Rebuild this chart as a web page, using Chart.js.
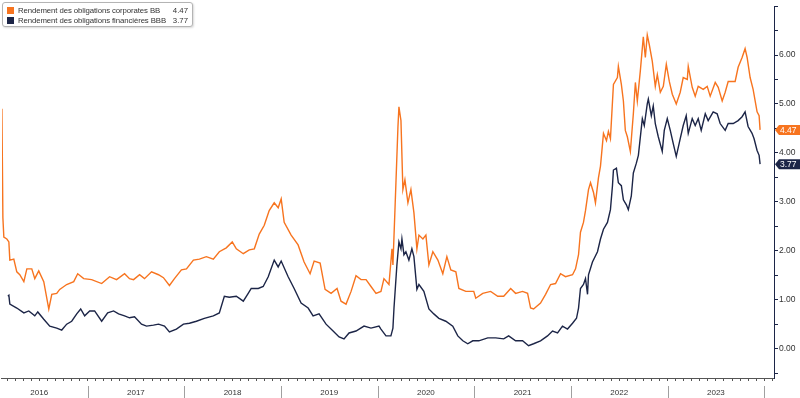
<!DOCTYPE html>
<html>
<head>
<meta charset="utf-8">
<script src="https://cdn.jsdelivr.net/npm/chart.js@4.4.1/dist/chart.umd.min.js"></script>
<style>
  html, body { margin: 0; padding: 0; background: #fff; }
  #wrap { position: relative; width: 800px; height: 398px; }
  #legend {
    position: absolute; left: 2px; top: 2px; width: 189px; height: 23px;
    border: 1px solid #b4b4b4; border-radius: 3px; background: #fff;
    box-shadow: 1px 1px 2px rgba(0,0,0,0.15);
    font: 7.8px "Liberation Sans", Arial, sans-serif; color: #333;
  }
  .row { position: absolute; left: 4px; right: 4px; height: 10px; line-height: 10px; white-space: nowrap; }
  .sw { position: absolute; left: 0; top: 1px; width: 7px; height: 7px; }
  .lbl { position: absolute; left: 11px; letter-spacing: -0.1px; }
  .val { position: absolute; right: 0; }
</style>
</head>
<body>
<div id="wrap">
  <canvas id="chart" width="800" height="398"></canvas>
  <div id="legend">
    <div class="row" style="top:3px"><span class="sw" style="background:#f7741f"></span><span class="lbl">Rendement des obligations corporates BB</span><span class="val">4.47</span></div>
    <div class="row" style="top:13px"><span class="sw" style="background:#1c2547"></span><span class="lbl">Rendement des obligations financières BBB</span><span class="val">3.77</span></div>
  </div>
</div>
<script>
// time in decimal years
const corpDates = [
  2016.114, 2016.124, 2016.134, 2016.165, 2016.186, 2016.196, 2016.237, 2016.268, 2016.299, 2016.341,
  2016.372, 2016.423, 2016.454, 2016.495, 2016.547, 2016.599, 2016.630, 2016.681, 2016.712, 2016.784,
  2016.857, 2016.898, 2016.960, 2017.042, 2017.146, 2017.228, 2017.300, 2017.383, 2017.434, 2017.476,
  2017.538, 2017.589, 2017.662, 2017.734, 2017.785, 2017.847, 2017.899, 2017.971, 2018.023, 2018.095,
  2018.157, 2018.229, 2018.301, 2018.363, 2018.435, 2018.497, 2018.539, 2018.611, 2018.673, 2018.725,
  2018.776, 2018.828, 2018.879, 2018.931, 2018.972, 2019.003, 2019.034, 2019.106, 2019.178, 2019.240,
  2019.302, 2019.344, 2019.406, 2019.457, 2019.519, 2019.581, 2019.622, 2019.674, 2019.726, 2019.777,
  2019.829, 2019.881, 2019.932, 2019.984, 2020.035, 2020.066, 2020.118, 2020.149, 2020.159, 2020.180,
  2020.211, 2020.221, 2020.242, 2020.262, 2020.283, 2020.314, 2020.345, 2020.376, 2020.407, 2020.428,
  2020.469, 2020.500, 2020.531, 2020.572, 2020.624, 2020.675, 2020.717, 2020.758, 2020.810, 2020.841,
  2020.913, 2020.995, 2021.016, 2021.088, 2021.170, 2021.243, 2021.305, 2021.377, 2021.428, 2021.500,
  2021.552, 2021.583, 2021.614, 2021.686, 2021.738, 2021.790, 2021.841, 2021.893, 2021.944, 2022.017,
  2022.048, 2022.079, 2022.099, 2022.130, 2022.151, 2022.182, 2022.203, 2022.234, 2022.254, 2022.285,
  2022.306, 2022.337, 2022.368, 2022.388, 2022.409, 2022.440, 2022.481, 2022.491, 2022.522, 2022.543,
  2022.563, 2022.584, 2022.615, 2022.646, 2022.667, 2022.687, 2022.718, 2022.749, 2022.770, 2022.790,
  2022.811, 2022.842, 2022.873, 2022.894, 2022.925, 2022.956, 2022.987, 2023.018, 2023.049, 2023.090,
  2023.131, 2023.162, 2023.204, 2023.214, 2023.255, 2023.286, 2023.317, 2023.369, 2023.410, 2023.441,
  2023.493, 2023.524, 2023.565, 2023.596, 2023.627, 2023.699, 2023.730, 2023.771, 2023.802, 2023.823,
  2023.854, 2023.885, 2023.926, 2023.947, 2023.957
];
const corpYield = [
  4.90, 2.68, 2.28, 2.24, 2.18, 1.81, 1.83, 1.57, 1.51, 1.37,
  1.63, 1.63, 1.43, 1.59, 1.37, 0.81, 1.11, 1.13, 1.21, 1.31,
  1.37, 1.53, 1.43, 1.41, 1.33, 1.47, 1.41, 1.53, 1.43, 1.41,
  1.51, 1.43, 1.57, 1.51, 1.45, 1.29, 1.43, 1.61, 1.63, 1.81,
  1.83, 1.88, 1.83, 1.98, 2.06, 2.18, 2.04, 1.94, 2.02, 2.04,
  2.34, 2.52, 2.82, 2.98, 2.88, 3.06, 2.58, 2.32, 2.12, 1.77,
  1.53, 1.79, 1.75, 1.21, 1.13, 1.23, 0.97, 0.91, 1.17, 1.49,
  1.41, 1.41, 1.27, 1.13, 1.17, 1.43, 1.31, 2.04, 1.71, 2.84,
  4.54, 4.94, 4.66, 3.25, 3.45, 2.98, 3.25, 2.78, 2.04, 2.32,
  2.24, 2.32, 1.71, 1.98, 1.81, 1.53, 1.88, 1.61, 1.57, 1.23,
  1.17, 1.17, 1.03, 1.13, 1.17, 1.07, 1.07, 1.23, 1.13, 1.17,
  1.13, 0.83, 0.81, 0.93, 1.11, 1.31, 1.33, 1.53, 1.47, 1.51,
  1.63, 1.92, 2.38, 2.58, 2.82, 3.25, 3.39, 3.19, 2.98, 3.49,
  3.73, 4.40, 4.25, 4.44, 4.29, 5.40, 5.54, 5.77, 5.40, 5.06,
  4.46, 4.33, 4.03, 4.80, 5.44, 5.06, 5.67, 6.37, 5.95, 6.41,
  6.21, 5.87, 5.36, 5.60, 5.24, 5.36, 5.81, 5.46, 5.20, 5.00,
  5.24, 5.54, 5.50, 5.77, 5.34, 5.16, 5.36, 5.30, 5.36, 5.16,
  5.44, 5.34, 5.06, 5.24, 5.46, 5.46, 5.75, 5.95, 6.13, 5.95,
  5.54, 5.30, 4.84, 4.76, 4.47
];

const finDates = [
  2016.176, 2016.186, 2016.196, 2016.268, 2016.341, 2016.392, 2016.454, 2016.485, 2016.547, 2016.609,
  2016.681, 2016.733, 2016.784, 2016.836, 2016.888, 2016.929, 2016.970, 2017.022, 2017.073, 2017.146,
  2017.208, 2017.269, 2017.321, 2017.383, 2017.434, 2017.486, 2017.558, 2017.610, 2017.682, 2017.734,
  2017.796, 2017.847, 2017.919, 2017.992, 2018.054, 2018.126, 2018.208, 2018.301, 2018.363, 2018.415,
  2018.466, 2018.539, 2018.611, 2018.662, 2018.693, 2018.766, 2018.817, 2018.869, 2018.931, 2018.972,
  2019.003, 2019.075, 2019.137, 2019.209, 2019.282, 2019.333, 2019.395, 2019.467, 2019.540, 2019.602,
  2019.653, 2019.705, 2019.777, 2019.860, 2019.932, 2020.015, 2020.035, 2020.087, 2020.138, 2020.159,
  2020.170, 2020.200, 2020.221, 2020.242, 2020.252, 2020.273, 2020.293, 2020.324, 2020.355, 2020.376,
  2020.407, 2020.428, 2020.479, 2020.531, 2020.582, 2020.634, 2020.706, 2020.778, 2020.830, 2020.882,
  2020.933, 2020.985, 2021.047, 2021.140, 2021.222, 2021.305, 2021.356, 2021.428, 2021.500, 2021.562,
  2021.614, 2021.686, 2021.758, 2021.810, 2021.862, 2021.913, 2021.965, 2022.017, 2022.058, 2022.079,
  2022.099, 2022.130, 2022.151, 2022.172, 2022.182, 2022.223, 2022.275, 2022.306, 2022.337, 2022.378,
  2022.409, 2022.430, 2022.440, 2022.471, 2022.491, 2022.522, 2022.543, 2022.574, 2022.594, 2022.625,
  2022.646, 2022.677, 2022.698, 2022.739, 2022.759, 2022.790, 2022.801, 2022.832, 2022.852, 2022.873,
  2022.904, 2022.945, 2022.966, 2022.997, 2023.028, 2023.059, 2023.090, 2023.131, 2023.162, 2023.193,
  2023.214, 2023.255, 2023.286, 2023.317, 2023.348, 2023.390, 2023.420, 2023.472, 2023.513, 2023.544,
  2023.596, 2023.627, 2023.679, 2023.730, 2023.771, 2023.802, 2023.833, 2023.874, 2023.895, 2023.926,
  2023.947, 2023.957
];
const finYield = [
  1.07, 1.09, 0.91, 0.83, 0.73, 0.77, 0.67, 0.75, 0.60, 0.46,
  0.42, 0.38, 0.50, 0.56, 0.71, 0.81, 0.67, 0.77, 0.77, 0.56,
  0.73, 0.77, 0.71, 0.67, 0.63, 0.65, 0.50, 0.46, 0.48, 0.50,
  0.46, 0.34, 0.40, 0.50, 0.52, 0.56, 0.62, 0.67, 0.73, 1.07,
  1.05, 1.07, 0.97, 1.13, 1.23, 1.23, 1.27, 1.47, 1.81, 1.67,
  1.79, 1.47, 1.23, 0.93, 0.83, 0.67, 0.71, 0.50, 0.36, 0.24,
  0.20, 0.32, 0.36, 0.46, 0.42, 0.46, 0.40, 0.26, 0.26, 0.42,
  0.83, 1.71, 2.18, 2.04, 2.24, 1.92, 1.98, 1.81, 2.04, 1.88,
  1.21, 1.31, 1.17, 0.81, 0.71, 0.62, 0.56, 0.46, 0.26, 0.16,
  0.10, 0.16, 0.16, 0.22, 0.22, 0.20, 0.26, 0.16, 0.16, 0.06,
  0.10, 0.16, 0.26, 0.36, 0.32, 0.46, 0.40, 0.52, 0.62, 0.83,
  1.23, 1.31, 1.43, 1.11, 1.51, 1.77, 1.98, 2.24, 2.44, 2.58,
  2.84, 3.33, 3.65, 3.69, 3.39, 3.33, 3.04, 2.94, 2.84, 3.12,
  3.59, 3.79, 3.95, 4.70, 4.56, 5.00, 5.10, 4.76, 4.96, 4.60,
  4.33, 4.03, 4.46, 4.70, 4.46, 4.19, 3.93, 4.29, 4.56, 4.76,
  4.40, 4.70, 4.56, 4.70, 4.46, 4.80, 4.66, 4.84, 4.80, 4.60,
  4.46, 4.60, 4.60, 4.66, 4.74, 4.84, 4.54, 4.40, 4.29, 4.05,
  3.95, 3.77
];

const yearLabels = ['2016', '2017', '2018', '2019', '2020', '2021', '2022', '2023'];
const yTicks = [-0.5, 0, 0.5, 1, 1.5, 2, 2.5, 3, 3.5, 4, 4.5, 5, 5.5, 6, 6.5, 7];

const ORANGE = '#f7741f';
const NAVY = '#1c2547';
const X_MIN = 2016.114, X_MAX = 2024.101;

// monthly tick marks on the time axis
const monthTicks = [];
for (let k = 0; k <= 9 * 12; k++) {
  const v = 2016 + k / 12;
  if (v >= X_MIN && v <= X_MAX) monthTicks.push({ value: v });
}

const toPoints = (dates, vals) => dates.map((d, i) => ({ x: d, y: vals[i] }));

// year separators below the time axis
const yearSeparators = {
  id: 'yearSeparators',
  afterDraw(chart) {
    const { ctx, scales: { x } } = chart;
    ctx.save();
    ctx.strokeStyle = '#a0a0a0';
    ctx.lineWidth = 1;
    for (let yr = 2017; yr <= 2024; yr++) {
      const px = Math.round(x.getPixelForValue(yr)) + 0.5;
      ctx.beginPath();
      ctx.moveTo(px, 386);
      ctx.lineTo(px, 398);
      ctx.stroke();
    }
    ctx.restore();
  }
};

// last value tags on the right axis
const lastValueTags = {
  id: 'lastValueTags',
  afterDraw(chart) {
    const { ctx, scales: { y } } = chart;
    ctx.save();
    ctx.font = '8.5px "Liberation Sans", Arial, sans-serif';
    ctx.textBaseline = 'middle';
    chart.data.datasets.forEach(ds => {
      const last = ds.data[ds.data.length - 1].y;
      const py = y.getPixelForValue(last);
      const left = y.left + 1;
      ctx.fillStyle = ds.borderColor;
      ctx.beginPath();
      ctx.moveTo(left, py);
      ctx.lineTo(left + 4, py - 5);
      ctx.lineTo(800, py - 5);
      ctx.lineTo(800, py + 5);
      ctx.lineTo(left + 4, py + 5);
      ctx.closePath();
      ctx.fill();
      ctx.fillStyle = '#fff';
      ctx.fillText(last.toFixed(2), left + 5, py + 0.5);
    });
    ctx.restore();
  }
};

new Chart(document.getElementById('chart'), {
  type: 'line',
  data: {
    datasets: [
      {
        label: 'Rendement des obligations corporates BB',
        data: toPoints(corpDates, corpYield),
        borderColor: ORANGE,
        borderWidth: 1.4,
        pointRadius: 0,
        tension: 0
      },
      {
        label: 'Rendement des obligations financières BBB',
        data: toPoints(finDates, finYield),
        borderColor: NAVY,
        borderWidth: 1.4,
        pointRadius: 0,
        tension: 0
      }
    ]
  },
  options: {
    responsive: false,
    animation: false,
    layout: { padding: { top: 2, left: 0, right: 0, bottom: 0 } },
    plugins: {
      legend: { display: false },
      tooltip: { enabled: false }
    },
    scales: {
      x: {
        type: 'linear',
        min: X_MIN,
        max: X_MAX,
        afterBuildTicks: scale => { scale.ticks = monthTicks.slice(); },
        afterFit: scale => { scale.height = 20; },
        ticks: {
          autoSkip: false,
          maxRotation: 0,
          padding: 7,
          color: '#333',
          font: { family: '"Liberation Sans", Arial, sans-serif', size: 8 },
          callback: value => {
            const frac = value - Math.floor(value);
            if (Math.abs(frac - 0.5) < 0.01) return yearLabels[Math.floor(value) - 2016];
            return '';
          }
        },
        grid: { drawOnChartArea: false, tickLength: 3, color: '#555' },
        border: { color: '#555' }
      },
      y: {
        position: 'right',
        min: -0.6,
        max: 7,
        afterBuildTicks: scale => { scale.ticks = yTicks.map(v => ({ value: v })); },
        afterFit: scale => { scale.width = 26; },
        ticks: {
          autoSkip: false,
          padding: 1,
          color: '#333',
          font: { family: '"Liberation Sans", Arial, sans-serif', size: 8.5 },
          callback: value => (Number.isInteger(value) && value < 7 ? value.toFixed(2) : '')
        },
        grid: { drawOnChartArea: false, tickLength: 4, color: NAVY },
        border: { color: NAVY }
      }
    }
  },
  plugins: [yearSeparators, lastValueTags]
});
</script>
</body>
</html>
